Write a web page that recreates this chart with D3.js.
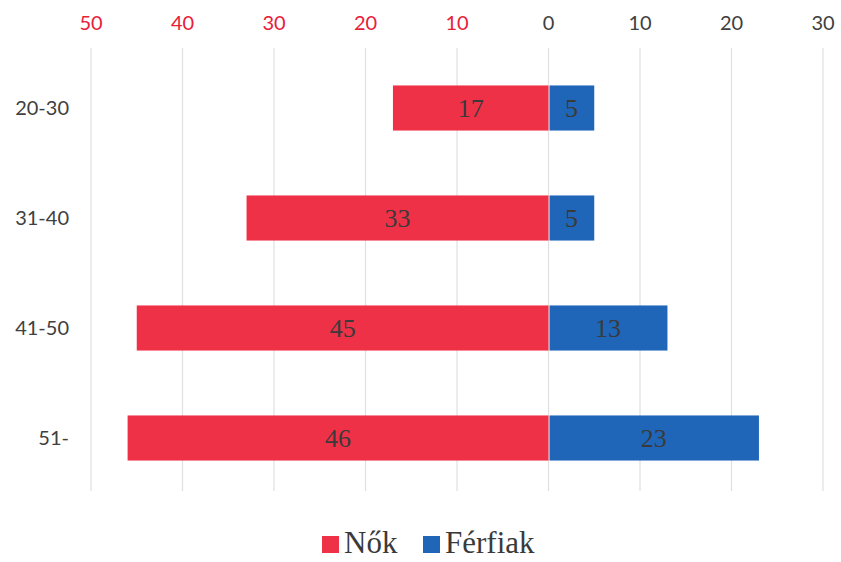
<!DOCTYPE html>
<html><head><meta charset="utf-8">
<script src="https://cdn.jsdelivr.net/npm/d3@7"></script>
<style>body{margin:0;background:#fff}</style>
</head><body>
<svg id="c" width="841" height="562"></svg>
<script>
const categories = ["20-30", "31-40", "41-50", "51-"];
const women = [17, 33, 45, 46];
const men = [5, 5, 13, 23];
const tickValues = [-50, -40, -30, -20, -10, 0, 10, 20, 30];
const seriesNames = ["Nők", "Férfiak"];
const colors = ["#ef3148", "#1f66b9"];

const svg = d3.select("#c");
const x = d3.scaleLinear().domain([-50, 30]).range([91, 823]);
const y = d3.scaleBand().domain(categories).range([53, 493]).paddingInner(0.59).paddingOuter(0.295);

// gridlines
svg.append("g").selectAll("line").data(tickValues).join("line")
  .attr("x1", d => x(d)).attr("x2", d => x(d))
  .attr("y1", 48).attr("y2", 491)
  .attr("stroke", "#e0e0e0").attr("stroke-width", 1.2);

// top axis labels
svg.append("g").selectAll("text").data(tickValues).join("text")
  .attr("x", d => x(d)).attr("y", 30)
  .attr("text-anchor", "middle")
  .attr("font-family", "Lato, 'Open Sans', sans-serif").attr("font-size", 20)
  .attr("fill", d => d < 0 ? "#e8203a" : "#404040")
  .text(d => Math.abs(d));

// category labels
svg.append("g").selectAll("text").data(categories).join("text")
  .attr("x", 69).attr("y", d => y(d) + y.bandwidth() / 2 + 7)
  .attr("text-anchor", "end")
  .attr("font-family", "Lato, 'Open Sans', sans-serif").attr("font-size", 20)
  .attr("fill", "#404040")
  .text(d => d);

const rows = categories.map((c, i) => ({c, w: women[i], m: men[i]}));

// bars
svg.append("g").selectAll("rect").data(rows).join("rect")
  .attr("x", d => x(-d.w)).attr("width", d => x(0) - x(-d.w))
  .attr("y", d => y(d.c)).attr("height", y.bandwidth())
  .attr("fill", colors[0]);
svg.append("g").selectAll("rect").data(rows).join("rect")
  .attr("x", x(0) + 1).attr("width", d => x(d.m) - x(0) - 1)
  .attr("y", d => y(d.c)).attr("height", y.bandwidth())
  .attr("fill", colors[1]);

// data labels
const lab = (sel, vfn, xfn) => sel.join("text")
  .attr("x", xfn).attr("y", d => y(d.c) + y.bandwidth() / 2 + 9)
  .attr("text-anchor", "middle")
  .attr("font-family", "'Liberation Serif', 'DejaVu Serif', serif").attr("font-size", 26)
  .attr("fill", "#3a3a3a").text(vfn);
lab(svg.append("g").selectAll("text").data(rows), d => d.w, d => (x(-d.w) + x(0)) / 2);
lab(svg.append("g").selectAll("text").data(rows), d => d.m, d => (x(d.m) + x(0)) / 2);

// legend
const leg = svg.append("g");
const legX = [322, 423];
seriesNames.forEach((n, i) => {
  leg.append("rect").attr("x", legX[i]).attr("y", 536).attr("width", 17).attr("height", 17).attr("fill", colors[i]);
  leg.append("text").attr("x", legX[i] + 22).attr("y", 553)
    .attr("font-family", "'Liberation Serif', 'DejaVu Serif', serif").attr("font-size", 31)
    .attr("fill", "#3a3a3a").text(n);
});
</script>
</body></html>
